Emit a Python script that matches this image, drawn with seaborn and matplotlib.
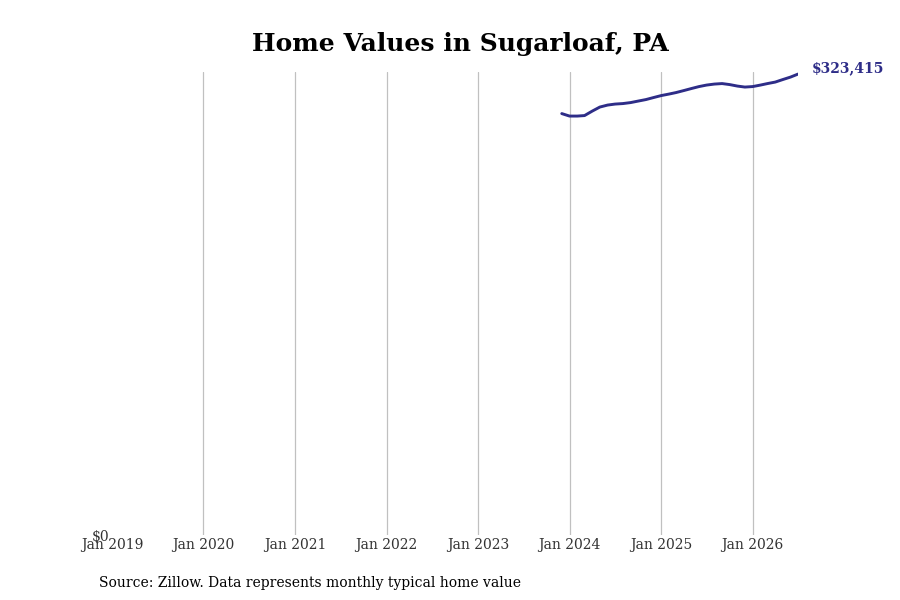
import matplotlib
matplotlib.use("Agg")
import matplotlib.pyplot as plt
import matplotlib.dates as mdates
import numpy as np
import pandas as pd
import seaborn as sns

# monthly typical home value, Dec 2023 - Jul 2026
months = pd.date_range("2023-12-01", "2026-07-01", freq="MS")
values = [295700, 293950, 293950, 294300, 297460, 300270, 301670, 302370,
          302720, 303420, 304470, 305530, 306930, 308330, 309390, 310440,
          311840, 313250, 314650, 315700, 316400, 316750, 316050, 315000,
          314300, 314650, 315700, 316750, 317800, 319560, 321310, 323415]
year_ticks = pd.date_range("2019-01-01", "2026-01-01", freq="YS")
line_color = "#2e2d88"

df = pd.DataFrame({"date": months, "value": values})

sns.set_style("white")
plt.rcParams["font.family"] = ["DejaVu Serif"]

fig = plt.figure(figsize=(9, 6), dpi=100)
ax = fig.add_axes([0.1244, 0.1083, 0.7623, 0.7717])

sns.lineplot(data=df, x="date", y="value", color=line_color, linewidth=2.1, ax=ax)

ax.set_xlim(pd.Timestamp("2019-01-01"), months[-1])
ax.set_ylim(0, values[-1] * 1.0045)
ax.set_xticks(year_ticks)
ax.xaxis.set_major_formatter(mdates.DateFormatter("%b %Y"))
ax.set_yticks([0])
ax.set_yticklabels(["$0"])
ax.tick_params(axis="both", length=0, labelsize=10, labelcolor="#333333", pad=2)
ax.grid(axis="x", color="#c0c0c0", linewidth=0.9)
ax.grid(axis="y", visible=False)
ax.get_xgridlines()[0].set_visible(False)
for s in ax.spines.values():
    s.set_visible(False)
ax.set_xlabel("")
ax.set_ylabel("")

ax.annotate(f"${values[-1]:,}", xy=(months[-1], values[-1]), xytext=(10, 4),
            textcoords="offset points", color=line_color, fontsize=10,
            fontweight="bold", va="center", ha="left", annotation_clip=False)

fig.suptitle("Home Values in Sugarloaf, PA", x=0.512, y=0.947, fontsize=18,
             fontweight="bold", color="black")
fig.text(0.11, 0.0215, "Source: Zillow. Data represents monthly typical home value",
         fontsize=10, color="black")

fig.savefig("out.png", dpi=100)
